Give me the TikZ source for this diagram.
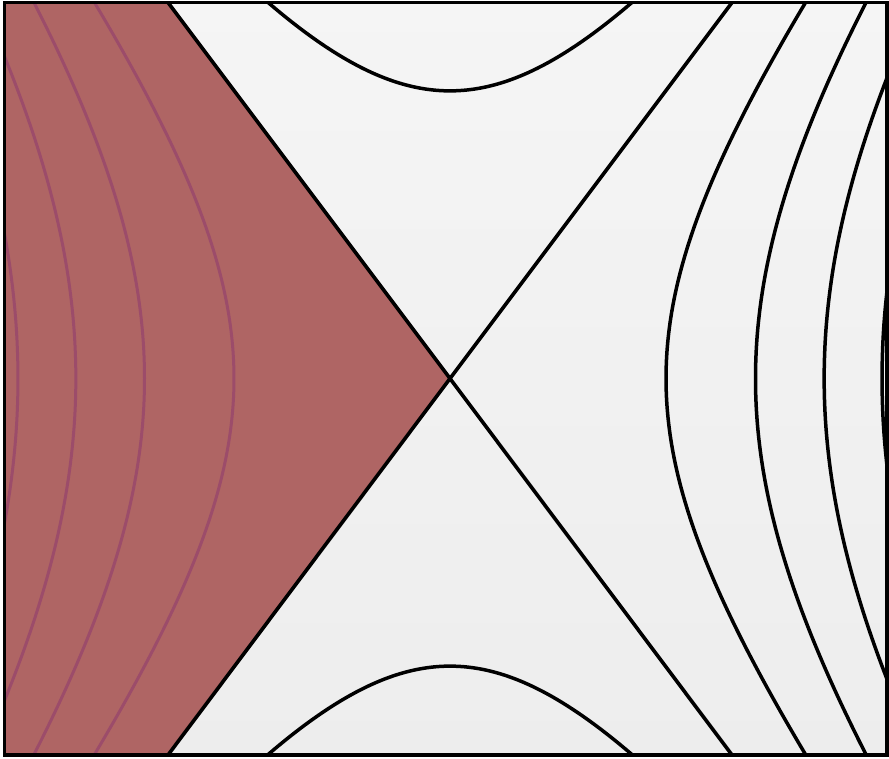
\documentclass[tikz,border=0pt]{standalone}
\definecolor{rfill}{RGB}{175,101,100}
\definecolor{rcurve}{RGB}{156,76,106}
\begin{document}
\begin{tikzpicture}[x=1pt,y=-1pt,
  worldline/.style={line width=3.5pt, black},
  redline/.style={line width=3pt, draw=rcurve},
  conel/.style={line width=3.6pt, black},
  framebox/.style={line width=3.6pt, black}]
\useasboundingbox (0,0) rectangle (889,758);
\coordinate (O) at (450,378.5);
\coordinate (TL) at (4.5,2.5);
\coordinate (BR) at (887,755);
\coordinate (BL) at (4.5,755);
\coordinate (ctl) at (168,2.5);
\coordinate (ctr) at (732,2.5);
\coordinate (cbl) at (168,755);
\coordinate (cbr) at (732,755);
\shade[top color=black!4, bottom color=black!7] (TL) rectangle (BR);
\fill[rfill] (TL) -- (ctl) -- (O) -- (cbl) -- (BL) -- cycle;
\begin{scope}
  \clip (TL) rectangle (BR);
  \foreach \n in {1,...,4} {
    \draw[redline] plot[domain=-1.6:1.6,samples=120,smooth]
      ({450-216*sqrt(\n)*cosh(\x)},{378.5+287.6*sqrt(\n)*sinh(\x)});
    \draw[worldline] plot[domain=-1.6:1.6,samples=120,smooth]
      ({450+216*sqrt(\n)*cosh(\x)},{378.5+287.6*sqrt(\n)*sinh(\x)});
  }
  \draw[worldline] plot[domain=-1.3:1.3,samples=100,smooth]
    ({450+216*sinh(\x)},{378.5-287.6*cosh(\x)});
  \draw[worldline] plot[domain=-1.3:1.3,samples=100,smooth]
    ({450+216*sinh(\x)},{378.5+287.6*cosh(\x)});
\end{scope}
\draw[conel] (ctl) -- (O) -- (cbr);
\draw[conel] (ctr) -- (O) -- (cbl);
\draw[framebox] (TL) rectangle (BR);
\end{tikzpicture}
\end{document}
